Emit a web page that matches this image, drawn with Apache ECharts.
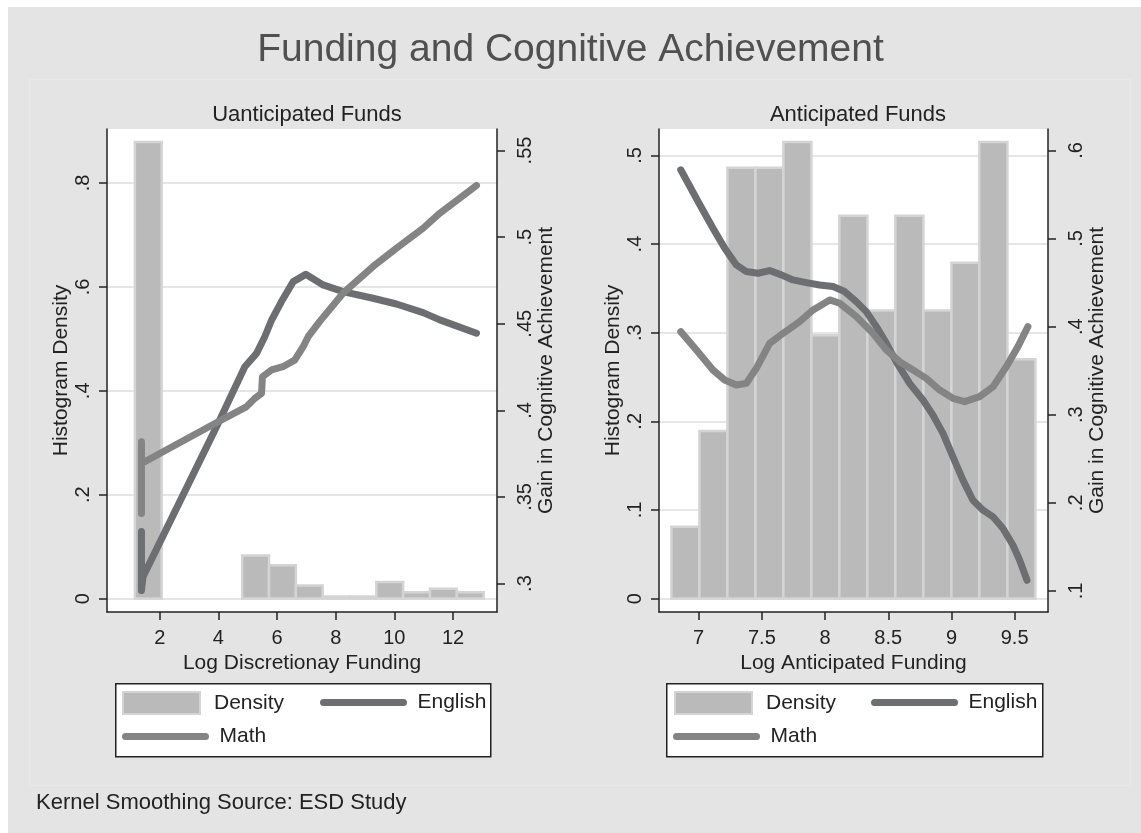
<!DOCTYPE html>
<html>
<head>
<meta charset="utf-8">
<title>Funding and Cognitive Achievement</title>
<script src="https://cdn.jsdelivr.net/npm/echarts@6.0.0/dist/echarts.min.js"></script>
<style>
  html, body { margin: 0; padding: 0; background: #fff; }
  #chart { width: 1141px; height: 833px; }
</style>
</head>
<body>
<div id="chart"></div>
<script>
// ---- data ----
// left panel: unanticipated funds
var leftBinEdges = [1.15, 2.065, 2.98, 3.895, 4.81, 5.725, 6.64, 7.555, 8.47, 9.385, 10.30, 11.215, 12.13, 13.045]
var leftDensity = [0.879, 0, 0, 0, 0.083, 0.064, 0.025, 0.004, 0.004, 0.032, 0.012, 0.019, 0.012]
var leftEnglish = [
  [1.375, 0.330], [1.375, 0.296], [1.43, 0.304], [3.99, 0.3925], [4.90, 0.4252], [5.30, 0.4329],
  [5.58, 0.4425], [5.81, 0.452], [6.15, 0.4628], [6.55, 0.4743], [6.98, 0.4785], [7.57, 0.4724],
  [8.25, 0.4685], [9.27, 0.4647], [10.07, 0.4614], [10.98, 0.4564], [11.55, 0.4522], [12.80, 0.4445]
]
var leftMath = [
  [1.375, 0.3404], [1.375, 0.3819], [1.375, 0.3693], [1.43, 0.3693], [3.99, 0.3934], [4.95, 0.402],
  [5.24, 0.4069], [5.47, 0.4098], [5.50, 0.4194], [5.81, 0.4233], [6.20, 0.4252], [6.60, 0.429],
  [6.89, 0.4368], [7.06, 0.4425], [7.45, 0.4512], [8.25, 0.4676], [9.27, 0.483], [10.07, 0.4936],
  [10.98, 0.5051], [11.55, 0.5138], [12.80, 0.5298]
]
var leftXTicks = [2, 4, 6, 8, 10, 12]
var leftDensityTicks = [0, 0.2, 0.4, 0.6, 0.8]
var leftGainTicks = [0.3, 0.35, 0.4, 0.45, 0.5, 0.55]

// right panel: anticipated funds
var rightBinEdges = [6.784, 7.006, 7.227, 7.449, 7.670, 7.892, 8.113, 8.335, 8.556, 8.778, 9.000, 9.221, 9.443, 9.664]
var rightDensity = [0.081, 0.189, 0.486, 0.486, 0.515, 0.297, 0.432, 0.325, 0.432, 0.325, 0.379, 0.515, 0.270]
var rightEnglish = [
  [6.858, 0.578], [7.008, 0.5386], [7.113, 0.5117], [7.206, 0.489], [7.298, 0.470], [7.377, 0.4625],
  [7.469, 0.4606], [7.562, 0.4636], [7.654, 0.4587], [7.746, 0.453], [7.852, 0.450], [7.957, 0.4473],
  [8.063, 0.4455], [8.155, 0.4398], [8.247, 0.4284], [8.326, 0.417], [8.406, 0.400], [8.485, 0.381],
  [8.564, 0.360], [8.669, 0.3356], [8.775, 0.3167], [8.854, 0.2996], [8.933, 0.2788], [9.012, 0.2523],
  [9.091, 0.2258], [9.170, 0.203], [9.250, 0.1917], [9.329, 0.1841], [9.408, 0.1708], [9.487, 0.1519],
  [9.540, 0.1348], [9.598, 0.1121]
]
var rightMath = [
  [6.858, 0.3943], [6.982, 0.3735], [7.113, 0.3508], [7.206, 0.3394], [7.298, 0.3337], [7.377, 0.3356],
  [7.456, 0.3527], [7.562, 0.381], [7.668, 0.3924], [7.799, 0.4057], [7.905, 0.4189], [8.037, 0.4303],
  [8.116, 0.4265], [8.247, 0.4114], [8.379, 0.3924], [8.485, 0.3735], [8.590, 0.3602], [8.696, 0.3508],
  [8.801, 0.3413], [8.907, 0.328], [9.012, 0.3186], [9.104, 0.3148], [9.223, 0.3205], [9.329, 0.3318],
  [9.434, 0.3545], [9.526, 0.3773], [9.605, 0.400]
]
var rightXTicks = [7, 7.5, 8, 8.5, 9, 9.5]
var rightDensityTicks = [0, 0.1, 0.2, 0.3, 0.4, 0.5]
var rightGainTicks = [0.1, 0.2, 0.3, 0.4, 0.5, 0.6]

// ---- styles ----
var FONT = 'Liberation Sans, Arial, Helvetica, sans-serif'
var INK = '#222'
var BAR_FILL = '#bababa'
var BAR_EDGE = '#d4d4d4'
var ENGLISH_COLOR = '#6d6e72'
var MATH_COLOR = '#848484'

function stataLabel(v) {
  return v === 0 ? '0' : String(+v.toFixed(3)).replace(/^0\./, '.')
}

function bins(edges, dens) {
  var out = []
  dens.forEach(function (d, i) {
    if (d > 0) out.push([edges[i], edges[i + 1], d])
  })
  return out
}

function renderBin(params, api) {
  var top = api.coord([api.value(0), api.value(2)])
  var base = api.coord([api.value(1), 0])
  return {
    type: 'rect',
    shape: { x: top[0], y: top[1], width: base[0] - top[0], height: base[1] - top[1] },
    style: { fill: BAR_FILL, stroke: BAR_EDGE, lineWidth: 2.5 }
  }
}

function xAxis(grid, min, max, ticks, name) {
  return {
    type: 'value', gridIndex: grid, min: min, max: max,
    name: name, nameLocation: 'middle', nameGap: 36,
    nameTextStyle: { fontSize: 21, color: INK, fontFamily: FONT },
    axisLine: { show: true, onZero: false, lineStyle: { color: INK, width: 1.5 } },
    axisTick: { show: true, length: 8, customValues: ticks, lineStyle: { color: INK, width: 1.5 } },
    axisLabel: { customValues: ticks, formatter: stataLabel, fontSize: 20, color: INK, margin: 16, fontFamily: FONT },
    splitLine: { show: false }
  }
}

function yAxis(grid, pos, min, max, ticks, name, gap, withGrid) {
  return {
    type: 'value', gridIndex: grid, position: pos, min: min, max: max,
    name: name, nameLocation: 'middle', nameRotate: 90, nameGap: gap,
    nameTextStyle: { fontSize: 21, color: INK, fontFamily: FONT },
    axisLine: { show: true, onZero: false, lineStyle: { color: INK, width: 1.5 } },
    axisTick: { show: true, length: 8, customValues: ticks, lineStyle: { color: INK, width: 1.5 } },
    axisLabel: { customValues: ticks, formatter: stataLabel, rotate: 90, fontSize: 20, color: INK, margin: pos === 'left' ? 14 : 18, fontFamily: FONT },
    splitLine: { show: withGrid, lineStyle: { color: '#e6e6e6', width: 2 } }
  }
}

function lineSeries(name, xi, yi, data, color) {
  return {
    type: 'line', name: name, xAxisIndex: xi, yAxisIndex: yi, data: data,
    symbol: 'none', smooth: false, z: 3,
    lineStyle: { color: color, width: 7, cap: 'round', join: 'round' },
    itemStyle: { color: color }
  }
}

function legendItem(name, left, top) {
  var item = { name: name }
  if (name === 'Density') {
    item.icon = 'rect'
    item.itemStyle = { color: BAR_FILL, borderColor: BAR_EDGE, borderWidth: 2 }
  } else {
    // only the line, no marker in the middle
    item.itemStyle = { color: 'rgba(0,0,0,0)', borderWidth: 0, opacity: 0 }
  }
  return {
    data: [item], left: left, top: top, orient: 'horizontal',
    itemWidth: name === 'Density' ? 77 : 80, itemHeight: 22,
    selectedMode: false, padding: 0,
    lineStyle: { width: 7, cap: 'round', opacity: 1 },
    textStyle: { fontSize: 21, color: INK, fontFamily: FONT, padding: [0, 0, 0, 9] }
  }
}

var chart = echarts.init(document.getElementById('chart'))

chart.setOption({
  animation: false,
  backgroundColor: '#fff',
  textStyle: { fontFamily: FONT },
  graphic: [
    // grey page behind everything, white strip left/top like the source image
    { type: 'rect', left: 8, top: 7, z: -10, shape: { width: 1133, height: 826 }, style: { fill: '#e4e4e4' } },
    { type: 'rect', left: 27, top: 77, z: -9, shape: { width: 1101, height: 706 }, style: { fill: 'none', stroke: '#e9e9e9', lineWidth: 1 } },
    // legend boxes
    { type: 'rect', left: 115, top: 683, z: -5, shape: { width: 375, height: 73 }, style: { fill: '#fff', stroke: INK, lineWidth: 1.5 } },
    { type: 'rect', left: 666, top: 683, z: -5, shape: { width: 376, height: 73 }, style: { fill: '#fff', stroke: INK, lineWidth: 1.5 } }
  ],
  title: [
    { text: 'Funding and Cognitive Achievement', left: 'center', top: 26,
      textStyle: { fontSize: 39, fontWeight: 'normal', color: '#505050', fontFamily: FONT } },
    { text: 'Uanticipated Funds', left: 302, top: 99, textAlign: 'center',
      textStyle: { fontSize: 22, fontWeight: 'normal', color: INK, fontFamily: FONT } },
    { text: 'Anticipated Funds', left: 853, top: 99, textAlign: 'center',
      textStyle: { fontSize: 22, fontWeight: 'normal', color: INK, fontFamily: FONT } },
    { text: 'Kernel Smoothing Source: ESD Study', left: 31, top: 787,
      textStyle: { fontSize: 22, fontWeight: 'normal', color: INK, fontFamily: FONT } }
  ],
  legend: [
    legendItem('Density', 122, 691),
    legendItem('English', 320, 692),
    legendItem('Math', 122, 726),
    legendItem('Density', 674, 691),
    legendItem('English', 871, 692),
    legendItem('Math', 673, 726)
  ],
  grid: [
    { left: 107, top: 129, width: 390, height: 483, show: true, backgroundColor: '#fff', borderWidth: 0 },
    { left: 659, top: 129, width: 389, height: 483, show: true, backgroundColor: '#fff', borderWidth: 0 }
  ],
  xAxis: [
    xAxis(0, 0.2, 13.5, leftXTicks, 'Log Discretionay Funding'),
    xAxis(1, 6.686, 9.764, rightXTicks, 'Log Anticipated Funding')
  ],
  yAxis: [
    yAxis(0, 'left', -0.0258, 0.904, leftDensityTicks, 'Histogram Density', 33, true),
    yAxis(0, 'right', 0.2836, 0.5624, leftGainTicks, 'Gain in Cognitive Achievement', 35, false),
    yAxis(1, 'left', -0.0151, 0.5298, rightDensityTicks, 'Histogram Density', 33, true),
    yAxis(1, 'right', 0.0761, 0.6243, rightGainTicks, 'Gain in Cognitive Achievement', 35, false)
  ],
  series: [
    { type: 'custom', name: 'Density', xAxisIndex: 0, yAxisIndex: 0, renderItem: renderBin,
      encode: { x: [0, 1], y: 2 }, itemStyle: { color: BAR_FILL }, data: bins(leftBinEdges, leftDensity) },
    lineSeries('English', 0, 1, leftEnglish, ENGLISH_COLOR),
    lineSeries('Math', 0, 1, leftMath, MATH_COLOR),
    { type: 'custom', name: 'Density', xAxisIndex: 1, yAxisIndex: 2, renderItem: renderBin,
      encode: { x: [0, 1], y: 2 }, itemStyle: { color: BAR_FILL }, data: bins(rightBinEdges, rightDensity) },
    lineSeries('English', 1, 3, rightEnglish, ENGLISH_COLOR),
    lineSeries('Math', 1, 3, rightMath, MATH_COLOR)
  ]
})
</script>
</body>
</html>
